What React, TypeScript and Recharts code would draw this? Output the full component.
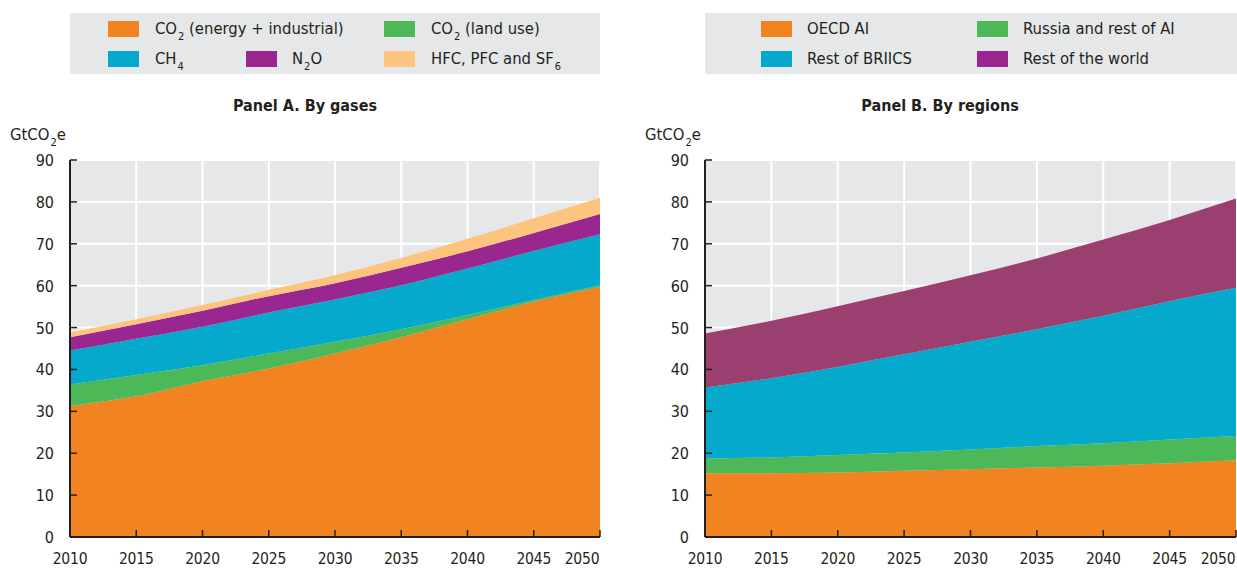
import React from "react";
import { AreaChart, Area, XAxis, YAxis, CartesianGrid } from "recharts";

const years = [2010, 2015, 2020, 2025, 2030, 2035, 2040, 2045, 2050];
const yTicks = [0, 10, 20, 30, 40, 50, 60, 70, 80, 90];

// Panel A - by gases (GtCO2e)
const co2Energy = [31.3, 33.6, 37.2, 40.2, 43.8, 47.7, 52.0, 56.2, 59.7];
const co2Land = [5.1, 5.1, 3.8, 3.6, 2.8, 1.9, 1.0, 0.4, 0.4];
const ch4 = [8.1, 8.6, 9.2, 9.8, 10.1, 10.5, 11.1, 11.7, 12.2];
const n2o = [3.2, 3.5, 3.8, 3.9, 3.9, 4.2, 4.1, 4.3, 4.8];
const fGases = [1.1, 1.2, 1.4, 1.5, 1.9, 2.3, 3.0, 3.5, 3.9];

// Panel B - by regions (GtCO2e)
const oecdAi = [15.2, 15.2, 15.4, 15.8, 16.2, 16.6, 17.0, 17.6, 18.3];
const russiaAi = [3.5, 3.8, 4.2, 4.4, 4.7, 5.1, 5.4, 5.7, 5.8];
const restBriics = [17.0, 18.9, 21.0, 23.4, 25.7, 27.9, 30.4, 33.0, 35.4];
const restWorld = [12.9, 13.7, 14.5, 15.1, 15.9, 16.9, 18.2, 19.4, 21.3];

const FONT = "'DejaVu Sans Condensed', 'Liberation Sans Narrow', sans-serif";
const INK = "#231f20";
const ORANGE = "#f28321";
const GREEN = "#4cb858";
const CYAN = "#05a9cb";
const PURPLE = "#9a2690";
const PALE = "#fdc47d";
const PLUM = "#9b3f71";
const BG = "#e6e7e8";

const gasData = years.map((year, i) => ({
  year,
  co2Energy: co2Energy[i],
  co2Land: co2Land[i],
  ch4: ch4[i],
  n2o: n2o[i],
  fGases: fGases[i],
}));

const regionData = years.map((year, i) => ({
  year,
  oecdAi: oecdAi[i],
  russiaAi: russiaAi[i],
  restBriics: restBriics[i],
  restWorld: restWorld[i],
}));

const Sub = ({ c }: { c: string }) => (
  <span style={{ fontSize: 11, position: "relative", top: 6, marginLeft: 1 }}>{c}</span>
);

function XTick(props: any) {
  const { x, y, payload } = props;
  const last = payload.value === 2050;
  return (
    <g>
      <line x1={x} y1={y} x2={x} y2={y - 7} stroke={INK} strokeWidth={1.5} />
      <text
        x={last ? x - 18 : x}
        y={y + 27}
        textAnchor="middle"
        fill={INK}
        fontSize={15.5}
        letterSpacing={-0.2}
        fontFamily={FONT}
      >
        {payload.value}
      </text>
    </g>
  );
}

function YTick(props: any) {
  const { x, y, payload } = props;
  return (
    <g>
      <line x1={x} y1={y} x2={x + 7} y2={y} stroke={INK} strokeWidth={1.5} />
      <text x={x - 16} y={y + 6} textAnchor="end" fill={INK} fontSize={16} fontFamily={FONT}>
        {payload.value}
      </text>
    </g>
  );
}

function Swatch({ x, y, color }: { x: number; y: number; color: string }) {
  return <div style={{ position: "absolute", left: x, top: y, width: 31, height: 16, background: color }} />;
}

function Label({ x, y, children }: { x: number; y: number; children: React.ReactNode }) {
  return (
    <div style={{ position: "absolute", left: x, top: y, fontSize: 16.5, lineHeight: "20px", color: INK, whiteSpace: "nowrap" }}>
      {children}
    </div>
  );
}

function axes() {
  return [
    <CartesianGrid key="g" fill={BG} fillOpacity={1} stroke="#ffffff" strokeWidth={2} />,
    <XAxis
      key="x"
      dataKey="year"
      type="number"
      domain={[2010, 2050]}
      ticks={years}
      interval={0}
      tickSize={0}
      tickMargin={0}
      tickLine={false}
      axisLine={{ stroke: INK, strokeWidth: 2 }}
      tick={<XTick />}
      height={31}
    />,
  ];
}

export default function App() {
  return (
    <div style={{ position: "absolute", left: 0, top: 0, width: 1237, height: 568, background: "#fff", fontFamily: FONT }}>
      {/* Panel A legend */}
      <div style={{ position: "absolute", left: 70, top: 13, width: 530, height: 61, background: BG }} />
      <Swatch x={108} y={21} color={ORANGE} />
      <Label x={155} y={19}>CO<Sub c="2" /> (energy + industrial)</Label>
      <Swatch x={384} y={21} color={GREEN} />
      <Label x={431} y={19}>CO<Sub c="2" /> (land use)</Label>
      <Swatch x={108} y={51} color={CYAN} />
      <Label x={155} y={49}>CH<Sub c="4" /></Label>
      <Swatch x={246} y={51} color={PURPLE} />
      <Label x={292} y={49}>N<Sub c="2" />O</Label>
      <Swatch x={384} y={51} color={PALE} />
      <Label x={431} y={49}>HFC, PFC and SF<Sub c="6" /></Label>

      {/* Panel B legend */}
      <div style={{ position: "absolute", left: 705, top: 13, width: 532, height: 61, background: BG }} />
      <Swatch x={761} y={21} color={ORANGE} />
      <Label x={807} y={19}>OECD AI</Label>
      <Swatch x={977} y={21} color={GREEN} />
      <Label x={1023} y={19}>Russia and rest of AI</Label>
      <Swatch x={761} y={51} color={CYAN} />
      <Label x={807} y={49}>Rest of BRIICS</Label>
      <Swatch x={977} y={51} color={PURPLE} />
      <Label x={1023} y={49}>Rest of the world</Label>

      {/* Titles */}
      <div style={{ position: "absolute", left: 205, width: 200, top: 96, textAlign: "center", fontWeight: "bold", fontSize: 16, color: INK }}>
        Panel A. By gases
      </div>
      <div style={{ position: "absolute", left: 840, width: 200, top: 96, textAlign: "center", fontWeight: "bold", fontSize: 16, color: INK }}>
        Panel B. By regions
      </div>
      <Label x={10} y={125}>GtCO<Sub c="2" />e</Label>
      <Label x={645} y={125}>GtCO<Sub c="2" />e</Label>

      <div style={{ position: "absolute", left: 0, top: 0 }}>
        <AreaChart width={620} height={568} data={gasData} margin={{ top: 160, right: 20, bottom: 0, left: 0 }}>
          {axes()}
          <YAxis
            width={70}
            domain={[0, 90]}
            ticks={yTicks}
            tickSize={0}
            tickMargin={0}
            tickLine={false}
            axisLine={{ stroke: INK, strokeWidth: 2 }}
            tick={<YTick />}
          />
          <Area type="monotone" dataKey="co2Energy" stackId="a" fill={ORANGE} fillOpacity={1} stroke="none" isAnimationActive={false} />
          <Area type="monotone" dataKey="co2Land" stackId="a" fill={GREEN} fillOpacity={1} stroke="none" isAnimationActive={false} />
          <Area type="monotone" dataKey="ch4" stackId="a" fill={CYAN} fillOpacity={1} stroke="none" isAnimationActive={false} />
          <Area type="monotone" dataKey="n2o" stackId="a" fill={PURPLE} fillOpacity={1} stroke="none" isAnimationActive={false} />
          <Area type="monotone" dataKey="fGases" stackId="a" fill={PALE} fillOpacity={1} stroke="none" isAnimationActive={false} />
        </AreaChart>
      </div>

      <div style={{ position: "absolute", left: 620, top: 0 }}>
        <AreaChart width={617} height={568} data={regionData} margin={{ top: 160, right: 1, bottom: 0, left: 0 }}>
          {axes()}
          <YAxis
            width={85}
            domain={[0, 90]}
            ticks={yTicks}
            tickSize={0}
            tickMargin={0}
            tickLine={false}
            axisLine={{ stroke: INK, strokeWidth: 2 }}
            tick={<YTick />}
          />
          <Area type="monotone" dataKey="oecdAi" stackId="a" fill={ORANGE} fillOpacity={1} stroke="none" isAnimationActive={false} />
          <Area type="monotone" dataKey="russiaAi" stackId="a" fill={GREEN} fillOpacity={1} stroke="none" isAnimationActive={false} />
          <Area type="monotone" dataKey="restBriics" stackId="a" fill={CYAN} fillOpacity={1} stroke="none" isAnimationActive={false} />
          <Area type="monotone" dataKey="restWorld" stackId="a" fill={PLUM} fillOpacity={1} stroke="none" isAnimationActive={false} />
        </AreaChart>
      </div>
    </div>
  );
}
